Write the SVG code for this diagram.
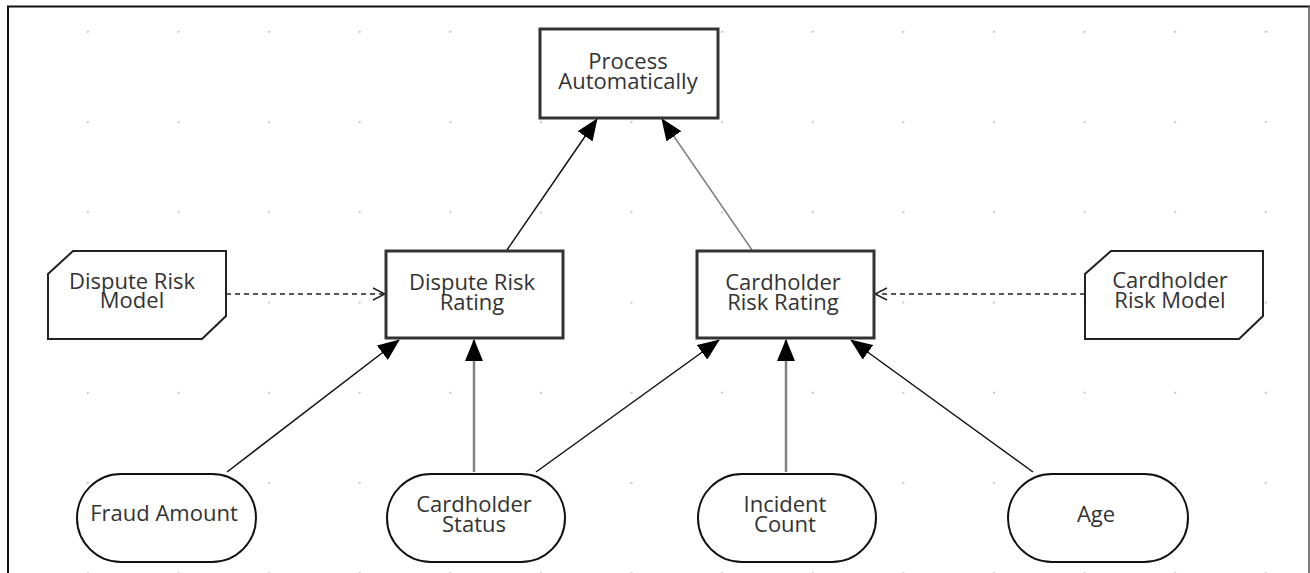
<svg xmlns="http://www.w3.org/2000/svg" width="1310" height="573" viewBox="0 0 1310 573">
<style>
.box{fill:#fff;stroke:#333;stroke-width:3}
.ks{fill:#fff;stroke:#222;stroke-width:2}
.in{fill:#fff;stroke:#111;stroke-width:2}
.t{font-family:"Open Sans","Noto Sans",sans-serif;font-size:22px;fill:#333;text-anchor:middle}
.e{stroke:#111;stroke-width:1.5;fill:none}
.eg{stroke:#808080;stroke-width:2.5;fill:none}
.ed{stroke:#222;stroke-width:1.5;fill:none;stroke-dasharray:5,4}
.dot{fill:#c0c0c0}
</style>
<defs>
<marker id="fa" viewBox="0 0 22 18" refX="21" refY="9" markerWidth="22" markerHeight="18" markerUnits="userSpaceOnUse" orient="auto"><path d="M0,0 L22,9 L0,18 Z" fill="#000"/></marker>
<marker id="oa" viewBox="0 0 14 14" refX="13" refY="7" markerWidth="14" markerHeight="14" markerUnits="userSpaceOnUse" orient="auto"><path d="M1,1 L13,7 L1,13" fill="none" stroke="#222" stroke-width="1.5"/></marker>
<pattern id="grid" x="87" y="31" width="90.6" height="90.2" patternUnits="userSpaceOnUse"><circle cx="0.6" cy="0.6" r="1.4" class="dot"/></pattern>
</defs>
<rect width="1310" height="573" fill="#fff"/>
<g id="grid-dots">
<rect x="80" y="25" width="1200" height="548" fill="url(#grid)"/>
</g>
<g id="frame">
<line x1="8" y1="6" x2="8" y2="573" stroke="#111" stroke-width="2"/>
<line x1="7" y1="6.5" x2="1310" y2="6.5" stroke="#111" stroke-width="2"/>
<line x1="1309" y1="6" x2="1309" y2="573" stroke="#555" stroke-width="1.5"/>
</g>
<g id="connectors">
<line class="e" x1="507" y1="250" x2="597" y2="119" marker-end="url(#fa)"/>
<line class="eg" x1="752" y1="250" x2="662" y2="119" marker-end="url(#fa)" style="stroke-width:1.5"/>
<line class="ed" x1="226" y1="294" x2="385" y2="294" marker-end="url(#oa)"/>
<line class="ed" x1="1085" y1="294" x2="875" y2="294" marker-end="url(#oa)"/>
<line class="e" x1="227" y1="472" x2="399" y2="340" marker-end="url(#fa)"/>
<line class="eg" x1="474" y1="472" x2="474" y2="340" marker-end="url(#fa)"/>
<line class="e" x1="536" y1="472" x2="719" y2="340" marker-end="url(#fa)"/>
<line class="eg" x1="786" y1="472" x2="786" y2="340" marker-end="url(#fa)"/>
<line class="e" x1="1033" y1="472" x2="851" y2="340" marker-end="url(#fa)"/>
</g>
<g id="process-automatically">
<rect class="box" x="540" y="29" width="178" height="89"/>
<text class="t" x="628" y="69">Process</text>
<text class="t" x="628" y="89">Automatically</text>
</g>
<g id="dispute-risk-rating">
<rect class="box" x="386" y="251" width="177" height="87"/>
<text class="t" x="472" y="290">Dispute Risk</text>
<text class="t" x="472" y="310">Rating</text>
</g>
<g id="cardholder-risk-rating">
<rect class="box" x="697" y="251" width="177" height="87"/>
<text class="t" x="783" y="290">Cardholder</text>
<text class="t" x="783" y="310">Risk Rating</text>
</g>
<g id="dispute-risk-model">
<path class="ks" d="M73,251 L226,251 L226,316 L202,339 L48,339 L48,274 Z"/>
<text class="t" x="132" y="289">Dispute Risk</text>
<text class="t" x="132" y="308">Model</text>
</g>
<g id="cardholder-risk-model">
<path class="ks" d="M1111,251 L1263,251 L1263,316 L1239,339 L1085,339 L1085,274 Z"/>
<text class="t" x="1170" y="288">Cardholder</text>
<text class="t" x="1170" y="308">Risk Model</text>
</g>
<g id="fraud-amount">
<rect class="in" x="77" y="474" width="179" height="88" rx="44" ry="44"/>
<text class="t" x="164" y="521">Fraud Amount</text>
</g>
<g id="cardholder-status">
<rect class="in" x="387" y="474" width="178" height="88" rx="44" ry="44"/>
<text class="t" x="474" y="512">Cardholder</text>
<text class="t" x="474" y="532">Status</text>
</g>
<g id="incident-count">
<rect class="in" x="698" y="474" width="178" height="88" rx="44" ry="44"/>
<text class="t" x="785" y="512">Incident</text>
<text class="t" x="785" y="532">Count</text>
</g>
<g id="age">
<rect class="in" x="1008" y="474" width="180" height="88" rx="44" ry="44"/>
<text class="t" x="1096" y="522">Age</text>
</g>
</svg>
